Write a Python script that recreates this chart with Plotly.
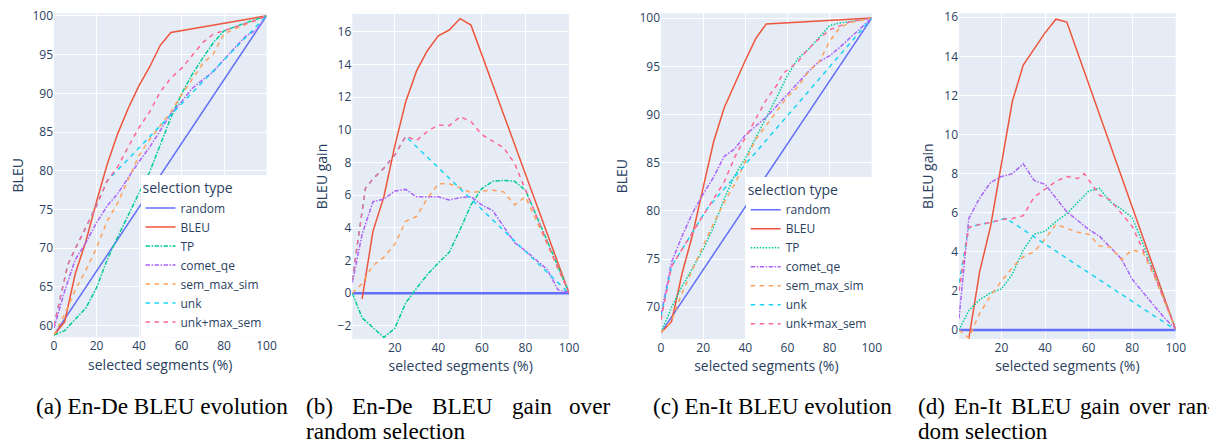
import plotly.graph_objects as go
from plotly.subplots import make_subplots

# The page body has an 8px margin, so the figure is sized and laid out to
# land on the 1217x443 window.
OFF = 8
FW, FH = 1217 - OFF, 443 - OFF

# ---------------- data ----------------
x_grid = [0, 5, 10, 15, 20, 25, 30, 35, 40, 45, 50, 55, 60, 65, 70, 75, 80, 85, 90, 95, 100]
gain_grid = [0.5, 5, 10, 15, 20, 25, 30, 35, 40, 45, 50, 55, 60, 65, 70, 75, 80, 85, 90, 95, 100]

# (a) En-De BLEU evolution
ende_random_x = [0, 100]
ende_random = [58.8, 100.0]
ende_bleu_x = [0, 5, 10, 15, 20, 25, 30, 35, 40, 45, 50, 55, 100]
ende_bleu = [58.8, 60.5, 66.7, 70.9, 76.0, 80.8, 84.8, 88.1, 91.0, 93.4, 96.2, 97.85, 100.0]
ende_tp = [58.8, 59.36, 60.82, 62.28, 64.89, 68.5, 71.46, 74.37, 77.13, 79.84, 83.3,
           86.86, 89.92, 92.43, 94.54, 96.55, 98.06, 98.62, 99.08, 99.54, 100.0]
ende_comet = [59.7, 64.46, 68.52, 70.73, 73.29, 75.45, 77.06, 79.12, 81.18, 83.04, 85.25,
              87.36, 88.92, 90.63, 91.74, 92.8, 94.36, 95.82, 97.33, 98.14, 100.0]
ende_sem = [58.8, 61.46, 64.62, 67.18, 70.04, 73.5, 75.86, 79.02, 81.98, 84.04, 85.85,
            87.61, 89.77, 91.88, 93.84, 95.1, 97.66, 98.32, 98.88, 99.44, 100.0]
ende_unk_x = [0, 6.5, 10, 15, 20, 25, 100]
ende_unk = [60.0, 67.88, 69.92, 72.63, 75.49, 78.7, 100.0]
ende_unkmax_x = [0, 6.5, 10, 15, 20, 25, 30, 35, 40, 45, 50, 55, 60, 65, 70, 75, 80, 85, 90, 95, 100]
ende_unkmax = [60.0, 67.88, 69.92, 72.63, 75.49, 78.7, 80.51, 83.12, 85.58, 87.59, 90.2,
               91.96, 93.22, 94.88, 96.54, 97.65, 98.06, 98.52, 98.98, 99.44, 100.0]

# (b) En-De BLEU gain over random selection
deg_random_x = [0.5, 100]
deg_random = [0.0, 0.0]
deg_bleu_x = [5, 10, 15, 20, 25, 30, 35, 40, 45, 50, 55, 100]
deg_bleu = [-0.35, 3.8, 5.9, 9.0, 11.7, 13.6, 14.85, 15.75, 16.1, 16.8, 16.4, 0.0]
deg_tp = [0.0, -1.5, -2.1, -2.7, -2.15, -0.6, 0.3, 1.15, 1.85, 2.5, 3.9,
          5.4, 6.4, 6.85, 6.9, 6.85, 6.3, 4.8, 3.2, 1.6, 0.05]
deg_comet = [0.65, 3.6, 5.6, 5.75, 6.25, 6.35, 5.9, 5.9, 5.9, 5.7, 5.85,
             5.9, 5.4, 5.05, 4.1, 3.1, 2.6, 2.0, 1.45, 0.2, 0.05]
deg_sem = [0.0, 0.6, 1.7, 2.2, 3.0, 4.4, 4.7, 5.8, 6.7, 6.7, 6.45,
           6.15, 6.25, 6.3, 6.2, 5.4, 5.9, 4.5, 3.0, 1.5, 0.1]
deg_unk_x = [0.5, 6.5, 10, 15, 20, 25, 100]
deg_unk = [0.8, 6.4, 7.0, 7.65, 8.45, 9.6, 0.0]
deg_unkmax_x = [0.5, 6.5, 10, 15, 20, 25, 30, 35, 40, 45, 50, 55, 60, 65, 70, 75, 80, 85, 90, 95, 100]
deg_unkmax = [0.8, 6.4, 7.0, 7.65, 8.45, 9.6, 9.35, 9.9, 10.3, 10.25, 10.8,
              10.5, 9.7, 9.3, 8.9, 7.95, 6.3, 4.7, 3.1, 1.5, 0.05]

# (c) En-It BLEU evolution
enit_random_x = [0, 100]
enit_random = [67.35, 100.0]
enit_bleu_x = [0, 5, 10, 15, 20, 25, 30, 35, 40, 45, 50, 100]
enit_bleu = [67.35, 68.5, 73.5, 77.55, 82.4, 87.2, 90.7, 93.2, 95.6, 97.9, 99.4, 100.0]
enit_tp = [67.35, 69.98, 72.17, 74.15, 75.98, 78.36, 81.25, 83.68, 85.46, 87.59, 89.63,
           91.81, 94.04, 95.82, 96.76, 98.04, 99.22, 99.5, 99.64, 99.82, 100.0]
enit_comet = [69.2, 74.68, 77.37, 79.8, 81.73, 83.51, 85.65, 86.43, 87.86, 88.79, 89.73,
              90.91, 92.09, 93.37, 94.46, 95.49, 96.07, 97.0, 97.99, 98.97, 100.0]
enit_sem = [67.35, 68.58, 71.47, 74.0, 76.38, 78.71, 80.9, 82.78, 85.06, 87.44, 88.88,
            90.31, 91.84, 92.87, 94.46, 95.44, 97.57, 99.05, 99.54, 99.77, 100.0]
enit_unk_x = [0, 5, 10, 15, 22, 100]
enit_unk = [69.0, 74.23, 76.02, 77.75, 80.25, 100.0]
enit_unkmax_x = [0, 5, 10, 15, 20, 25, 30, 35, 40, 45, 50, 55, 58, 65, 70, 75, 80, 85, 90, 95, 100]
enit_unkmax = [68.7, 74.23, 76.02, 77.75, 79.53, 81.21, 83.0, 85.58, 87.61, 89.64, 91.53,
               93.06, 94.29, 95.47, 96.86, 97.84, 98.77, 99.2, 99.64, 99.82, 100.0]

# (d) En-It BLEU gain over random selection
dig_random_x = [0.5, 100]
dig_random = [0.0, 0.0]
dig_bleu_x = [5, 10, 15, 20, 25, 30, 35, 40, 45, 50, 100]
dig_bleu = [-0.45, 3.0, 5.3, 8.5, 11.7, 13.55, 14.4, 15.2, 15.9, 15.75, 0.0]
dig_tp = [0.0, 1.0, 1.55, 1.9, 2.1, 2.85, 4.1, 4.9, 5.05, 5.55, 5.95,
          6.5, 7.1, 7.25, 6.55, 6.2, 5.75, 4.4, 2.9, 1.45, 0.1]
dig_comet = [0.6, 5.7, 6.75, 7.55, 7.85, 8.0, 8.5, 7.65, 7.45, 6.75, 6.05,
             5.6, 5.15, 4.8, 4.25, 3.65, 2.6, 1.9, 1.25, 0.6, 0.05]
dig_sem = [0.0, -0.4, 0.85, 1.75, 2.5, 3.2, 3.75, 4.0, 4.65, 5.4, 5.2,
           5.0, 4.9, 4.3, 4.25, 3.6, 4.1, 3.95, 2.8, 1.4, 0.05]
dig_unk_x = [0.5, 5, 10, 15, 22, 100]
dig_unk = [2.4, 5.25, 5.4, 5.5, 5.72, 0.0]
dig_unkmax_x = [0.5, 5, 10, 15, 20, 25, 30, 35, 40, 45, 50, 55, 58, 65, 70, 75, 80, 85, 90, 95, 100]
dig_unkmax = [2.0, 5.25, 5.4, 5.5, 5.65, 5.7, 5.85, 6.8, 7.2, 7.6, 7.85,
              7.75, 8.0, 6.9, 6.65, 6.0, 5.3, 4.1, 2.9, 1.45, 0.05]

series_names = ["random", "BLEU", "TP", "comet_qe", "sem_max_sim", "unk", "unk+max_sem"]
colors = ["#636EFA", "#EF553B", "#00CC96", "#AB63FA", "#FFA15A", "#19D3F3", "#FF6692"]

DASH = "4.5px,4.5px"
DOT = "1.5px,1.5px"
DASHDOT = "4.5px,1.5px,1.5px,1.5px"

panels = [
    dict(col=1, legend="legend",
         xs=[ende_random_x, ende_bleu_x, x_grid, x_grid, x_grid, ende_unk_x, ende_unkmax_x],
         ys=[ende_random, ende_bleu, ende_tp, ende_comet, ende_sem, ende_unk, ende_unkmax],
         dashes=["solid", "solid", DASHDOT, DASHDOT, DASH, DASH, DASH], rw=1.5),
    dict(col=2, legend=None,
         xs=[deg_random_x, deg_bleu_x, gain_grid, gain_grid, gain_grid, deg_unk_x, deg_unkmax_x],
         ys=[deg_random, deg_bleu, deg_tp, deg_comet, deg_sem, deg_unk, deg_unkmax],
         dashes=["solid", "solid", DASHDOT, DASHDOT, DASH, DASH, DASH], rw=2.5),
    dict(col=3, legend="legend2",
         xs=[enit_random_x, enit_bleu_x, x_grid, x_grid, x_grid, enit_unk_x, enit_unkmax_x],
         ys=[enit_random, enit_bleu, enit_tp, enit_comet, enit_sem, enit_unk, enit_unkmax],
         dashes=["solid", "solid", DOT, DASHDOT, DASH, DASH, DASH], rw=1.5),
    dict(col=4, legend=None,
         xs=[dig_random_x, dig_bleu_x, gain_grid, gain_grid, gain_grid, dig_unk_x, dig_unkmax_x],
         ys=[dig_random, dig_bleu, dig_tp, dig_comet, dig_sem, dig_unk, dig_unkmax],
         dashes=["solid", "solid", DOT, DASHDOT, DASH, DASH, DASH], rw=2.5),
]

fig = make_subplots(rows=1, cols=4)

for p in panels:
    for i, name in enumerate(series_names):
        kw = {}
        if p["legend"]:
            kw["legend"] = p["legend"]
        fig.add_trace(
            go.Scatter(
                x=p["xs"][i], y=p["ys"][i], mode="lines", name=name,
                line=dict(color=colors[i], width=p["rw"] if i == 0 else 1.5, dash=p["dashes"][i]),
                showlegend=bool(p["legend"]), **kw),
            row=1, col=p["col"])


def px_x(v):
    return (v - OFF) / FW


def px_y(v):
    return 1 - (v - OFF) / FH


# plot areas in window pixels: (left, right, top, bottom)
areas = [(54, 266.5, 13.3, 337.3), (352.3, 569, 14, 339), (661, 871.7, 13.3, 339), (959, 1175.7, 13.3, 339)]
xranges = [[0, 100], [0.5, 100], [0, 100], [0.5, 100]]
yranges = [[58.5, 100.33], [-2.8, 17.08], [66.7, 100.5], [-0.46, 16.2]]
ydticks = [5, 2, 5, 2]
ytitles = ["BLEU", "BLEU gain", "BLEU", "BLEU gain"]
ystandoffs = [10, 6, 8, 7]

axis_font = dict(family="Open Sans", size=12, color="#2a3f5f")
for k in range(4):
    l, r, t, b = areas[k]
    sfx = "" if k == 0 else str(k + 1)
    fig.layout["xaxis" + sfx].update(
        domain=[px_x(l), px_x(r)], range=xranges[k], tick0=0, dtick=20, automargin=False,
        ticklabeloverflow="allow",
        title=dict(text="selected segments (%)", standoff=6,
                   font=dict(family="Open Sans", size=14, color="#2a3f5f")),
        tickfont=axis_font, gridcolor="white", zeroline=False, showline=False)
    fig.layout["yaxis" + sfx].update(
        domain=[px_y(b), px_y(t)], range=yranges[k], dtick=ydticks[k], automargin=False,
        ticklabeloverflow="allow",
        title=dict(text=ytitles[k], standoff=ystandoffs[k],
                   font=dict(family="Open Sans", size=14, color="#2a3f5f")),
        tickfont=axis_font, gridcolor="white", zeroline=False, showline=False)

legend_common = dict(
    xanchor="right", yanchor="bottom", bgcolor="white",
    font=dict(family="Open Sans", size=12, color="#2a3f5f"),
    title=dict(text="selection type", font=dict(family="Open Sans", size=14, color="#2a3f5f")),
)
fig.update_layout(
    legend=dict(x=px_x(areas[0][1]), y=px_y(areas[0][3]), **legend_common),
    legend2=dict(x=px_x(areas[2][1]), y=px_y(areas[2][3]), **legend_common),
)

# captions (window pixel positions)
cap_font = dict(family="Liberation Serif", size=23.2, color="black")
captions = [
    ("(a) En-De BLEU evolution", 161.5, 406, "center"),
    ("(b)", 305, 406, "left"), ("En-De", 351.2, 406, "left"), ("BLEU", 430.9, 406, "left"),
    ("gain", 510.6, 406, "left"), ("over", 611, 406, "right"),
    ("random selection", 305, 431, "left"),
    ("(c) En-It BLEU evolution", 772, 406, "center"),
    ("(d)", 917, 406, "left"), ("En-It", 953.1, 406, "left"), ("BLEU", 1009.8, 406, "left"),
    ("gain", 1079.4, 406, "left"), ("over", 1128.4, 406, "left"), ("ran-", 1216, 406, "right"),
    ("dom selection", 917, 431, "left"),
]
for text, cx, cy, anchor in captions:
    fig.add_annotation(text=text, x=px_x(cx), y=px_y(cy), xref="paper", yref="paper",
                       xanchor=anchor, yanchor="middle", showarrow=False, font=cap_font,
                       borderpad=0)

fig.update_layout(
    template="plotly",
    width=FW, height=FH,
    margin=dict(l=0, r=0, t=0, b=0, autoexpand=False),
    paper_bgcolor="white", plot_bgcolor="#E5ECF6",
    font=dict(family="Open Sans", size=12, color="#2a3f5f"),
)

fig.write_html("out.html")
